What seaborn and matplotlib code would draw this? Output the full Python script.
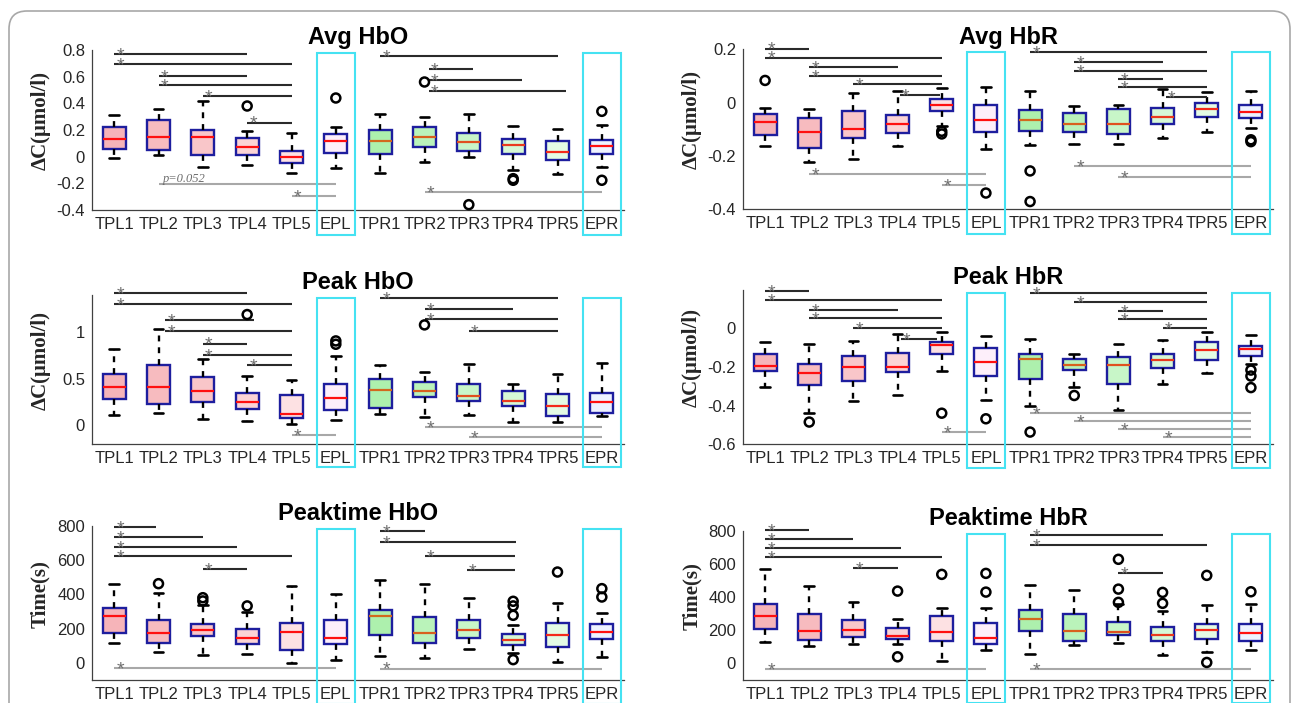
import numpy as np
import seaborn as sns
import matplotlib.pyplot as plt
from matplotlib.patches import Rectangle, FancyBboxPatch
from matplotlib.transforms import blended_transform_factory, IdentityTransform

GROUPS = ["TPL1", "TPL2", "TPL3", "TPL4", "TPL5", "EPL",
          "TPR1", "TPR2", "TPR3", "TPR4", "TPR5", "EPR"]

# ---- Avg HbO ----
avg_hbo_hi = [0.31, 0.36, 0.42, 0.19, 0.177, 0.22, 0.32, 0.30, 0.32, 0.23, 0.21, 0.24]
avg_hbo_q3 = [0.22, 0.275, 0.20, 0.137, 0.045, 0.17, 0.20, 0.22, 0.18, 0.134, 0.12, 0.124]
avg_hbo_med = [0.13, 0.15, 0.15, 0.076, 0.0, 0.12, 0.12, 0.147, 0.11, 0.09, 0.035, 0.08]
avg_hbo_q1 = [0.06, 0.05, 0.01, 0.01, -0.05, 0.025, 0.02, 0.07, 0.043, 0.018, -0.028, 0.018]
avg_hbo_lo = [-0.01, 0.01, -0.08, -0.06, -0.125, -0.085, -0.12, -0.04, -0.005, -0.10, -0.127, -0.08]
avg_hbo_out = [[], [], [], [0.38], [], [0.44], [], [0.56], [-0.36], [-0.165, -0.177], [], [0.34, -0.177]]
avg_hbo_top = [(1, 4, 0.772), (1, 5, 0.696), (2, 4, 0.608), (2, 5, 0.534), (3, 5, 0.453), (4, 5, 0.256),
               (7, 11, 0.754), (8.1, 9.1, 0.658), (8.1, 10.2, 0.572), (8.1, 11.2, 0.489)]
avg_hbo_bot = [(2, 6, -0.208, "p=0.052"), (5, 6, -0.296, "*"), (8, 12, -0.266, "*")]

# ---- Avg HbR ----
avg_hbr_hi = [-0.021, -0.025, 0.035, 0.045, 0.055, 0.058, 0.044, -0.013, -0.011, 0.051, 0.04, 0.045]
avg_hbr_q3 = [-0.044, -0.058, -0.03, -0.046, 0.015, -0.009, -0.028, -0.041, -0.026, -0.02, 0.0, -0.009]
avg_hbr_med = [-0.075, -0.109, -0.099, -0.08, -0.008, -0.064, -0.065, -0.08, -0.081, -0.056, -0.023, -0.035]
avg_hbr_q1 = [-0.122, -0.169, -0.133, -0.113, -0.033, -0.11, -0.107, -0.109, -0.12, -0.079, -0.053, -0.059]
avg_hbr_lo = [-0.165, -0.223, -0.212, -0.165, -0.09, -0.175, -0.158, -0.157, -0.155, -0.135, -0.11, -0.096]
avg_hbr_out = [[0.083], [], [], [], [-0.108, -0.118], [-0.34], [-0.257, -0.372], [], [], [], [], [-0.14, -0.147]]
avg_hbr_top = [(1, 2, 0.203), (1, 5, 0.169), (2, 4, 0.135), (2, 5, 0.101), (3, 5, 0.068), (4.05, 4.95, 0.029),
               (7, 11, 0.188), (8, 10, 0.153), (8, 11, 0.119), (9, 10, 0.088), (9, 11, 0.058), (10.07, 11, 0.019)]
avg_hbr_bot = [(2, 6, -0.27, "*"), (5, 6, -0.31, "*"), (8, 12, -0.238, "*"), (9, 12, -0.281, "*")]

# ---- Peak HbO ----
peak_hbo_hi = [0.825, 1.036, 0.711, 0.529, 0.486, 0.746, 0.646, 0.571, 0.657, 0.443, 0.554, 0.671]
peak_hbo_q3 = [0.557, 0.643, 0.521, 0.35, 0.329, 0.443, 0.496, 0.468, 0.443, 0.364, 0.339, 0.346]
peak_hbo_med = [0.407, 0.414, 0.371, 0.246, 0.125, 0.289, 0.382, 0.371, 0.314, 0.264, 0.211, 0.246]
peak_hbo_q1 = [0.282, 0.229, 0.246, 0.171, 0.079, 0.161, 0.182, 0.304, 0.257, 0.204, 0.096, 0.132]
peak_hbo_lo = [0.114, 0.132, 0.064, 0.05, 0.018, 0.061, 0.125, 0.086, 0.107, 0.032, 0.032, 0.104]
peak_hbo_out = [[], [], [], [1.19], [], [0.907, 0.871], [], [1.079], [], [], [], []]
peak_hbo_top = [(1, 4, 1.425), (1, 5, 1.304), (2.15, 4.15, 1.129), (2.15, 5, 1.014), (3, 4, 0.879),
                (3, 5, 0.757), (4, 5, 0.643), (7, 11, 1.364), (8, 10, 1.25), (8, 11, 1.143), (9, 11, 1.011)]
peak_hbo_bot = [(5, 6, -0.104, "*"), (8, 12, -0.021, "*"), (9, 12, -0.129, "*")]

# ---- Peak HbR ----
peak_hbr_hi = [-0.069, -0.083, -0.066, -0.026, -0.019, -0.04, -0.052, -0.133, -0.079, -0.062, -0.017, -0.036]
peak_hbr_q3 = [-0.134, -0.184, -0.145, -0.129, -0.069, -0.103, -0.133, -0.159, -0.148, -0.133, -0.069, -0.091]
peak_hbr_med = [-0.195, -0.229, -0.202, -0.198, -0.084, -0.172, -0.159, -0.19, -0.191, -0.166, -0.112, -0.109]
peak_hbr_q1 = [-0.221, -0.291, -0.274, -0.228, -0.134, -0.247, -0.26, -0.217, -0.286, -0.207, -0.162, -0.143]
peak_hbr_lo = [-0.305, -0.44, -0.376, -0.345, -0.222, -0.369, -0.4, -0.302, -0.422, -0.29, -0.233, -0.186]
peak_hbr_out = [[], [-0.486], [], [], [-0.44], [-0.469], [-0.538], [-0.348], [], [], [], [-0.216, -0.247, -0.307]]
peak_hbr_top = [(1, 2, 0.193), (1, 5, 0.15), (2, 4, 0.097), (2, 5, 0.053), (3, 5, 0.002), (4.07, 4.9, -0.053),
                (7, 11, 0.184), (8, 11, 0.138), (9, 10, 0.093), (9, 11, 0.048), (10, 11, 0.003)]
peak_hbr_bot = [(5, 6, -0.54, "*"), (7, 12, -0.438, "*"), (8, 12, -0.483, "*"), (9, 12, -0.521, "*"),
                (10, 12, -0.562, "*")]

# ---- Peaktime HbO ----
ptime_hbo_hi = [463, 409, 337, 298, 450, 403, 483, 459, 380, 220, 352, 292]
ptime_hbo_q3 = [323, 253, 230, 197, 236, 249, 311, 269, 253, 169, 236, 226]
ptime_hbo_med = [274, 173, 191, 144, 183, 148, 272, 177, 195, 136, 162, 181]
ptime_hbo_q1 = [177, 117, 156, 113, 74, 109, 164, 119, 144, 107, 90, 140]
ptime_hbo_lo = [115, 62, 49, 51, 2, 19, 41, 29, 82, 56, 6, 35]
ptime_hbo_out = [[], [463], [381, 362], [333], [], [], [], [], [], [360, 333, 278, 19], [531], [434, 385]]
ptime_hbo_top = [(1, 1.95, 796), (1, 3, 738), (1, 3.77, 679), (1, 5, 623), (3, 4, 551),
                 (7, 8, 771), (7, 10.07, 707), (8, 10.05, 625), (8.95, 10.05, 545)]
ptime_hbo_bot = [(1, 6, -29, "*"), (7, 12, -33, "*")]

# ---- Peaktime HbR ----
ptime_hbr_hi = [572, 465, 369, 270, 337, 332, 476, 443, 359, 316, 351, 359]
ptime_hbr_q3 = [359, 298, 264, 212, 286, 242, 324, 300, 250, 222, 236, 236]
ptime_hbr_med = [284, 197, 204, 165, 189, 155, 266, 197, 189, 173, 201, 183]
ptime_hbr_q1 = [208, 141, 161, 147, 133, 119, 197, 137, 169, 135, 145, 133]
ptime_hbr_lo = [127, 107, 117, 117, 14, 81, 56, 109, 125, 48, 69, 81]
ptime_hbr_out = [[], [], [], [437, 40], [538], [544, 431], [], [], [629, 449, 369], [429, 363], [532, 6], [433]]
ptime_hbr_top = [(1, 2, 808), (1, 3, 754), (1, 4.08, 699), (1, 5, 645), (3, 4, 578),
                 (7, 10, 776), (7, 11, 715), (9, 10, 548)]
ptime_hbr_bot = [(1, 6, -36, "*"), (7, 12, -36, "*")]

# styling (not data)
FACE = ["#F6B4B9", "#F7BBBF", "#F9C6C9", "#FBD3D5", "#FDE1E3", "#FDEFFA",
        "#ADF0AD", "#BAF3BA", "#C8F6C8", "#D6F8D6", "#E4FBE4", "#EEF2FF"]
MEDC = ["#FF1010"] * 6 + ["#D2691E", "#D8601E", "#E0501E", "#EA3A1E", "#F42A1A", "#FF1010"]
W, H = 1292, 703
# axes rectangles in pixels: (left, top, right, bottom)
RECTS = [(92, 50, 624, 210), (743, 49.3, 1273, 209),
         (92, 295, 624, 444), (743, 290, 1273, 444),
         (92, 526, 624, 680), (743, 531, 1273, 680)]

sns.set_style("white")
plt.rcParams["font.family"] = ["Liberation Sans", "DejaVu Sans"]
plt.rcParams["axes.unicode_minus"] = False

panels = [
    ("Avg HbO", "ΔC(μmol/l)", (-0.4, 0.8), [-0.4, -0.2, 0, 0.2, 0.4, 0.6, 0.8],
     avg_hbo_lo, avg_hbo_q1, avg_hbo_med, avg_hbo_q3, avg_hbo_hi, avg_hbo_out, avg_hbo_top, avg_hbo_bot),
    ("Avg HbR", "ΔC(μmol/l)", (-0.4, 0.2), [-0.4, -0.2, 0, 0.2],
     avg_hbr_lo, avg_hbr_q1, avg_hbr_med, avg_hbr_q3, avg_hbr_hi, avg_hbr_out, avg_hbr_top, avg_hbr_bot),
    ("Peak HbO", "ΔC(μmol/l)", (-0.2, 1.4), [0, 0.5, 1],
     peak_hbo_lo, peak_hbo_q1, peak_hbo_med, peak_hbo_q3, peak_hbo_hi, peak_hbo_out, peak_hbo_top, peak_hbo_bot),
    ("Peak HbR", "ΔC(μmol/l)", (-0.6, 0.2), [-0.6, -0.4, -0.2, 0],
     peak_hbr_lo, peak_hbr_q1, peak_hbr_med, peak_hbr_q3, peak_hbr_hi, peak_hbr_out, peak_hbr_top, peak_hbr_bot),
    ("Peaktime HbO", "Time(s)", (-100, 800), [0, 200, 400, 600, 800],
     ptime_hbo_lo, ptime_hbo_q1, ptime_hbo_med, ptime_hbo_q3, ptime_hbo_hi, ptime_hbo_out, ptime_hbo_top, ptime_hbo_bot),
    ("Peaktime HbR", "Time(s)", (-100, 800), [0, 200, 400, 600, 800],
     ptime_hbr_lo, ptime_hbr_q1, ptime_hbr_med, ptime_hbr_q3, ptime_hbr_hi, ptime_hbr_out, ptime_hbr_top, ptime_hbr_bot),
]


def star(ax, x, y):
    ax.annotate("*", (x, y), xytext=(1.5, -4.6), textcoords="offset points",
                ha="left", va="baseline", fontsize=14, color="#6E6E6E", annotation_clip=False)


fig = plt.figure(figsize=(W / 100, H / 100), dpi=100)
fig.patches.append(FancyBboxPatch((9, -40), 1281, 692 + 40, boxstyle="round,pad=0,rounding_size=18",
                                  transform=IdentityTransform(), fill=False, edgecolor="#A8A8A8", lw=1.2))

pos = np.arange(1, len(GROUPS) + 1)
for rect, (title, ylabel, ylim, yticks, lo, q1, med, q3, hi, out, top, bot) in zip(RECTS, panels):
    l, t, r, b = rect
    ax = fig.add_axes([l / W, 1 - b / H, (r - l) / W, (b - t) / H])
    stats = [dict(whislo=lo[i], q1=q1[i], med=med[i], q3=q3[i], whishi=hi[i], fliers=[])
             for i in range(len(GROUPS))]
    res = ax.bxp(stats, positions=pos, widths=0.52, capwidths=0.22, patch_artist=True,
                 showfliers=False, manage_ticks=False,
                 boxprops=dict(edgecolor="#1E1E9E", linewidth=1.7),
                 whiskerprops=dict(color="black", linestyle=(0, (2.5, 2.5)), linewidth=1.7),
                 capprops=dict(color="black", linewidth=1.9),
                 medianprops=dict(color="red", linewidth=1.6))
    for patch, fc in zip(res["boxes"], FACE):
        patch.set_facecolor(fc)
    for line, mc in zip(res["medians"], MEDC):
        line.set_color(mc)

    ox = [pos[i] for i in range(len(GROUPS)) for _ in out[i]]
    oy = [v for i in range(len(GROUPS)) for v in out[i]]
    if ox:
        sns.scatterplot(x=ox, y=oy, ax=ax, marker="o", s=42, facecolor="none",
                        edgecolor="black", linewidth=1.8, zorder=3, clip_on=False)

    for x0, x1, y in top:
        ax.plot([x0, x1], [y, y], color="#2A2A2A", lw=1.5, clip_on=False, solid_capstyle="butt")
        star(ax, x0, y)
    for x0, x1, y, lab in bot:
        ax.plot([x0, x1], [y, y], color="#A8A8A8", lw=1.5, clip_on=False, solid_capstyle="butt")
        if lab == "*":
            star(ax, x0, y)
        else:
            ax.annotate(lab, (x0, y), xytext=(3, 1.5), textcoords="offset points",
                        ha="left", va="baseline", fontsize=9, color="#6E6E6E", style="italic",
                        family=["Liberation Serif", "DejaVu Serif"], annotation_clip=False)

    trans = blended_transform_factory(ax.transData, ax.transAxes)
    for c in (6, 12):
        ax.add_patch(Rectangle((c - 0.43, -0.155), 0.86, 1.135, transform=trans, clip_on=False,
                               fill=False, edgecolor="#45E2F2", lw=1.5, zorder=4))

    ax.set_xlim(0.5, 12.5)
    ax.set_ylim(*ylim)
    ax.set_xticks(pos)
    ax.set_xticklabels(GROUPS)
    ax.set_yticks(yticks)
    ax.set_yticklabels([f"{v:g}" for v in yticks])
    ax.tick_params(direction="in", length=4, width=0.8, color="#404040", labelsize=12,
                   labelcolor="#262626", pad=5)
    sns.despine(ax=ax)
    for s in ("left", "bottom"):
        ax.spines[s].set_color("#404040")
        ax.spines[s].set_linewidth(0.9)
    ax.set_title(title, fontsize=17, fontweight="bold", pad=4, color="black")
    ax.set_ylabel(ylabel, fontsize=15, fontweight="bold", family=["Liberation Serif", "DejaVu Serif"])
    ax.yaxis.set_label_coords(-0.078, 0.56)
    ax.patch.set_alpha(0)

fig.savefig("out.png", dpi=100)
